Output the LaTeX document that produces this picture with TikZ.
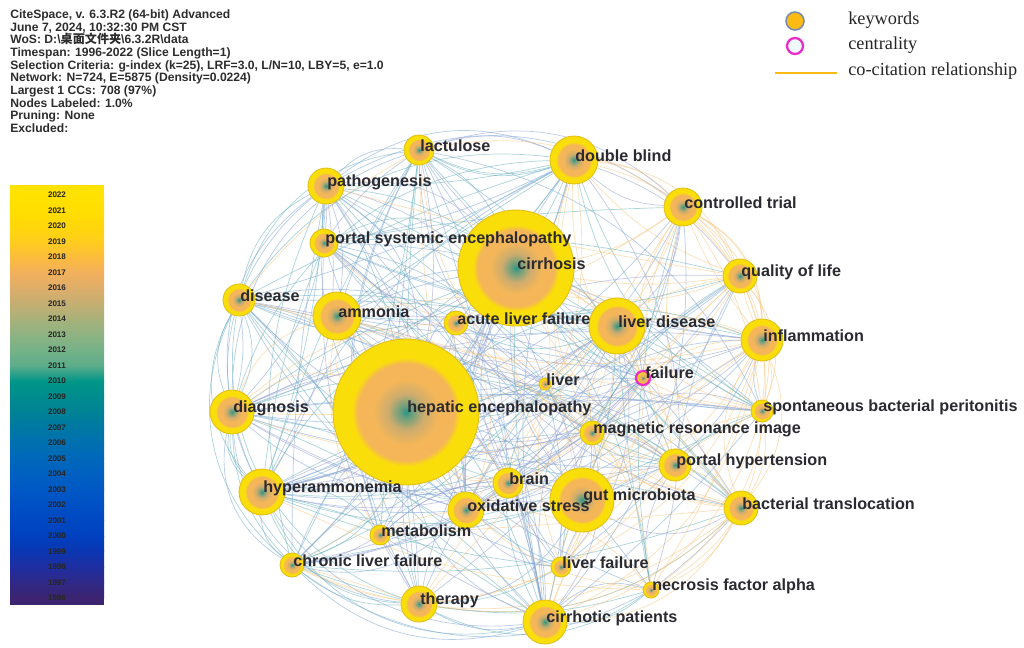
\documentclass[tikz,border=0pt]{standalone}
\usepackage{fontspec}
\setmainfont{Liberation Serif}
\setsansfont{Liberation Sans}
\newfontfamily\cjk{Noto Sans CJK SC}
\usetikzlibrary{calc}

\definecolor{kwyellow}{RGB}{250,222,10}
\definecolor{kwrim}{RGB}{226,192,20}
\definecolor{kworange}{RGB}{244,182,88}
\definecolor{kwtan}{RGB}{205,172,110}
\definecolor{kwteal}{RGB}{40,150,135}
\definecolor{labeltext}{RGB}{42,42,48}
\definecolor{hdrgray}{RGB}{45,45,45}
\definecolor{ec0}{RGB}{250,200,130}
\definecolor{ec1}{RGB}{125,165,215}
\definecolor{ec2}{RGB}{105,178,190}
\definecolor{ec3}{RGB}{150,160,212}
\definecolor{centring}{RGB}{232,45,200}
\definecolor{legorange}{RGB}{252,186,20}
\definecolor{legrim}{RGB}{120,140,175}
\definecolor{bartop}{RGB}{255,226,0}
\definecolor{barbottom}{RGB}{60,36,112}

% rings of a keyword node: the node's rim lies at 25bp
\pgfdeclareradialshading{kwrings}{\pgfpoint{0bp}{0bp}}{%
  color(0bp)=(kwteal); color(2bp)=(kwteal!60!kwtan); color(6.2bp)=(kwtan);
  color(11.2bp)=(kworange); color(16.5bp)=(kworange); color(18.6bp)=(kwyellow);
  color(50bp)=(kwyellow)}

\pgfdeclarelayer{bg}
\pgfdeclarelayer{edges}
\pgfsetlayers{bg,edges,main}

% keyword nodes: name / x / y / radius (px) / label
\def\kwlist{lac/419/150/15/lactulose,
db/574/160/24/double blind,
pat/326/186/18/pathogenesis,
ct/683/207/19/controlled trial,
pse/324/243/14/portal systemic encephalopathy,
cir/516/268/58/cirrhosis,
qol/740/276/17/quality of life,
dis/239/300/16/disease,
amm/337/316/24/ammonia,
alf/456/323/12/acute liver failure,
ld/617/326/28/liver disease,
inf/762/340/21/inflammation,
liv/545/384/6/liver,
he/406/412/73/hepatic encephalopathy,
diag/232/412/22/diagnosis,
sbp/762/411/11/spontaneous bacterial peritonitis,
mri/592/433/12/magnetic resonance image,
ph/675/465/16/portal hypertension,
br/508/483/15/brain,
hyp/262/492/23/hyperammonemia,
gut/582/500/32/gut microbiota,
ox/466/510/18/oxidative stress,
bt/741/508/17/bacterial translocation,
met/380/535/10/metabolism,
clf/292/565/12/chronic liver failure,
lf/561/567/10/liver failure,
nfa/651/590/8/necrosis factor alpha,
th/419/604/18/therapy,
cp/545/622/22/cirrhotic patients}

% link weights: name / x / weight
\def\linklist{lac/419/0.35, db/574/0.6, pat/326/0.5, ct/683/0.5, pse/324/0.45,
cir/516/0.95, qol/740/0.35, dis/239/0.45, amm/337/0.6, alf/456/0.35, ld/617/0.7,
inf/762/0.45, liv/545/0.25, fail/643/0.4, he/406/1.0, diag/232/0.55,
sbp/762/0.3, mri/592/0.35, ph/675/0.4, br/508/0.45, hyp/262/0.6, gut/582/0.65,
ox/466/0.45, bt/741/0.4, met/380/0.35, clf/292/0.4, lf/561/0.35, nfa/651/0.3,
th/419/0.5, cp/545/0.6}

\begin{document}
\begin{tikzpicture}[x=0.02cm,y=-0.02cm,
  kw/.style={circle, draw=kwrim, line width=0.5pt, shading=kwrings, inner sep=0pt},
  kwlabel/.style={anchor=west, inner sep=0pt, text=labeltext,
    font=\sffamily\bfseries\fontsize{9.2}{10}\selectfont},
  kwlink/.style={line width=0.4pt, draw opacity=0.55},
  yearlab/.style={inner sep=0pt, text=black!85,
    font=\sffamily\bfseries\fontsize{4.6}{5}\selectfont},
  legtext/.style={anchor=west, inner sep=0pt, text=black!85,
    font=\fontsize{10.4}{12}\selectfont}]

\begin{pgfonlayer}{bg}
  \fill[white] (0,0) rectangle (1024,647);
\end{pgfonlayer}
\useasboundingbox (0,0) rectangle (1024,647);

% ---- run information ----
\node[anchor=north west, align=left, inner sep=0pt, text=hdrgray,
  font=\sffamily\bfseries\fontsize{6.9}{7.2}\selectfont] (hdr) at (10,9.5)
{CiteSpace, v. 6.3.R2 (64-bit) Advanced\\
June 7, 2024, 10:32:30 PM CST\\
WoS: D:\textbackslash{\cjk 桌面文件夹}\textbackslash 6.3.2R\textbackslash data\\
Timespan: 1996-2022 (Slice Length=1)\\
Selection Criteria: g-index (k=25), LRF=3.0, L/N=10, LBY=5, e=1.0\\
Network: N=724, E=5875 (Density=0.0224)\\
Largest 1 CCs: 708 (97\%)\\
Nodes Labeled: 1.0\%\\
Pruning: None\\
Excluded:};

% ---- colour bar of years ----
\fill[bartop] (10,185) rectangle (104,195.2);
\fill[barbottom] (10,597.8) rectangle (104,605);
\foreach \k/\ra/\ga/\ba/\rb/\gb/\bb in {
 0/255/226/0/255/222/0, 1/255/222/0/255/215/10, 2/255/215/10/255/205/30,
 3/255/205/30/252/188/60, 4/252/188/60/242/176/92, 5/242/176/92/222/174/106,
 6/222/174/106/196/174/114, 7/196/174/114/168/177/122, 8/168/177/122/142/179/130,
 9/142/179/130/118/178/136, 10/118/178/136/92/172/138, 11/92/172/138/0/150/136,
 12/0/150/136/0/140/142, 13/0/140/142/0/130/150, 14/0/130/150/0/120/163,
 15/0/120/163/0/111/176, 16/0/111/176/0/104/186, 17/0/104/186/0/96/193,
 18/0/96/193/0/88/196, 19/0/88/196/0/80/196, 20/0/80/196/0/72/194,
 21/0/72/194/0/64/190, 22/0/64/190/12/54/178, 23/12/54/178/30/46/160,
 24/30/46/160/48/40/135, 25/48/40/135/60/36/112}
{
  \shade[top color={rgb,255:red,\ra;green,\ga;blue,\ba},
         bottom color={rgb,255:red,\rb;green,\gb;blue,\bb}]
    (10,195+\k*15.5) rectangle (104,195+\k*15.5+15.7);
}
\foreach \yr [count=\k from 0] in {2022,2021,2020,2019,2018,2017,2016,2015,2014,
  2013,2012,2011,2010,2009,2008,2007,2006,2005,2004,2003,2002,2001,2000,1999,1998,1997,1996}
  \node[yearlab] (yr\yr) at (57,195+\k*15.5) {\yr};

% ---- legend ----
\node[circle, fill=legorange, draw=legrim, line width=0.9pt, minimum size=0.36cm,
  inner sep=0pt] (legkw) at (795,21) {};
\node[circle, fill=cyan!6, draw=centring, line width=1.3pt, minimum size=0.32cm,
  inner sep=0pt] (legcen) at (795,46) {};
\coordinate (leglineA) at (775,73);
\coordinate (leglineB) at (837,73);
\draw[legorange, line width=1.4pt] (leglineA) -- (leglineB);
\node[legtext] (legkwt) at (848,20) {keywords};
\node[legtext] (legcent) at (848,45) {centrality};
\node[legtext] (leglnt) at (848,71) {co-citation relationship};

% ---- keyword nodes ----
\foreach \n/\x/\y/\r/\lab in \kwlist
  \node[kw, minimum size=\r*0.04cm] (\n) at (\x,\y) {};
\node[kw, draw=centring, line width=1.3pt, minimum size=0.28cm] (fail) at (643,378) {};

% ---- co-citation links ----
\begin{pgfonlayer}{edges}
\foreach \seed/\dens in {4242/0.9, 977/0.75} {
  \pgfmathsetseed{\seed}
  \foreach \a/\xa/\wa [count=\i] in \linklist {
    \foreach \b/\xb/\wb [count=\j] in \linklist {
      \ifnum\j>\i
        \pgfmathsetmacro\pk{\dens*(\wa+\wb)/2}
        \pgfmathtruncatemacro\keep{rnd<\pk ? 1 : 0}
        \ifnum\keep=1
          \pgfmathsetmacro\mx{(\xa+\xb)/2}
          \pgfmathsetmacro\po{\mx>640 ? 0.7 : (\mx>520 ? 0.35 : 0.1)}
          \pgfmathtruncatemacro\ci{rnd<\po ? 0 : random(1,3)}
          \pgfmathtruncatemacro\bd{random(0,60)-30}
          \draw[kwlink, ec\ci] (\a) to[bend left=\bd] (\b);
        \fi
      \fi
    }
  }
}
% arcs along the rim of the network
\foreach \a/\b/\bd/\c in {diag/dis/25/1, dis/pat/25/2, pat/lac/25/1, lac/db/20/3,
  db/ct/20/0, ct/qol/20/0, qol/inf/20/0, inf/sbp/20/0, sbp/bt/20/0, bt/nfa/20/0,
  nfa/cp/20/2, cp/th/20/1, th/clf/20/2, clf/hyp/25/1, hyp/diag/25/2,
  diag/pat/30/1, dis/lac/32/2, pat/db/30/1, lac/ct/30/3, db/qol/30/0, ct/inf/30/0,
  qol/sbp/30/0, inf/bt/30/0, sbp/nfa/30/0, bt/cp/30/0, nfa/th/30/2, cp/clf/30/1,
  th/hyp/32/2, clf/diag/35/1, hyp/dis/35/2, diag/lac/35/1, dis/db/30/2,
  th/diag/40/1, cp/hyp/38/2, bt/th/25/0, inf/nfa/30/0, ct/sbp/32/0, db/inf/30/0,
  diag/db/35/2, hyp/pat/38/1, clf/dis/38/2, cp/diag/40/1, th/dis/40/2,
  pat/ct/32/1, lac/qol/32/0, nfa/clf/32/1, bt/clf/30/0, sbp/cp/28/0}
  \draw[kwlink, ec\c] (\a) to[bend left=\bd] (\b);
\end{pgfonlayer}

% ---- keyword labels ----
\foreach \n/\x/\y/\r/\lab in \kwlist
  \node[kwlabel] (\n-lab) at (\x+1,\y-4) {\lab};
\node[kwlabel] (fail-lab) at (645,373) {failure};

\end{tikzpicture}
\end{document}
